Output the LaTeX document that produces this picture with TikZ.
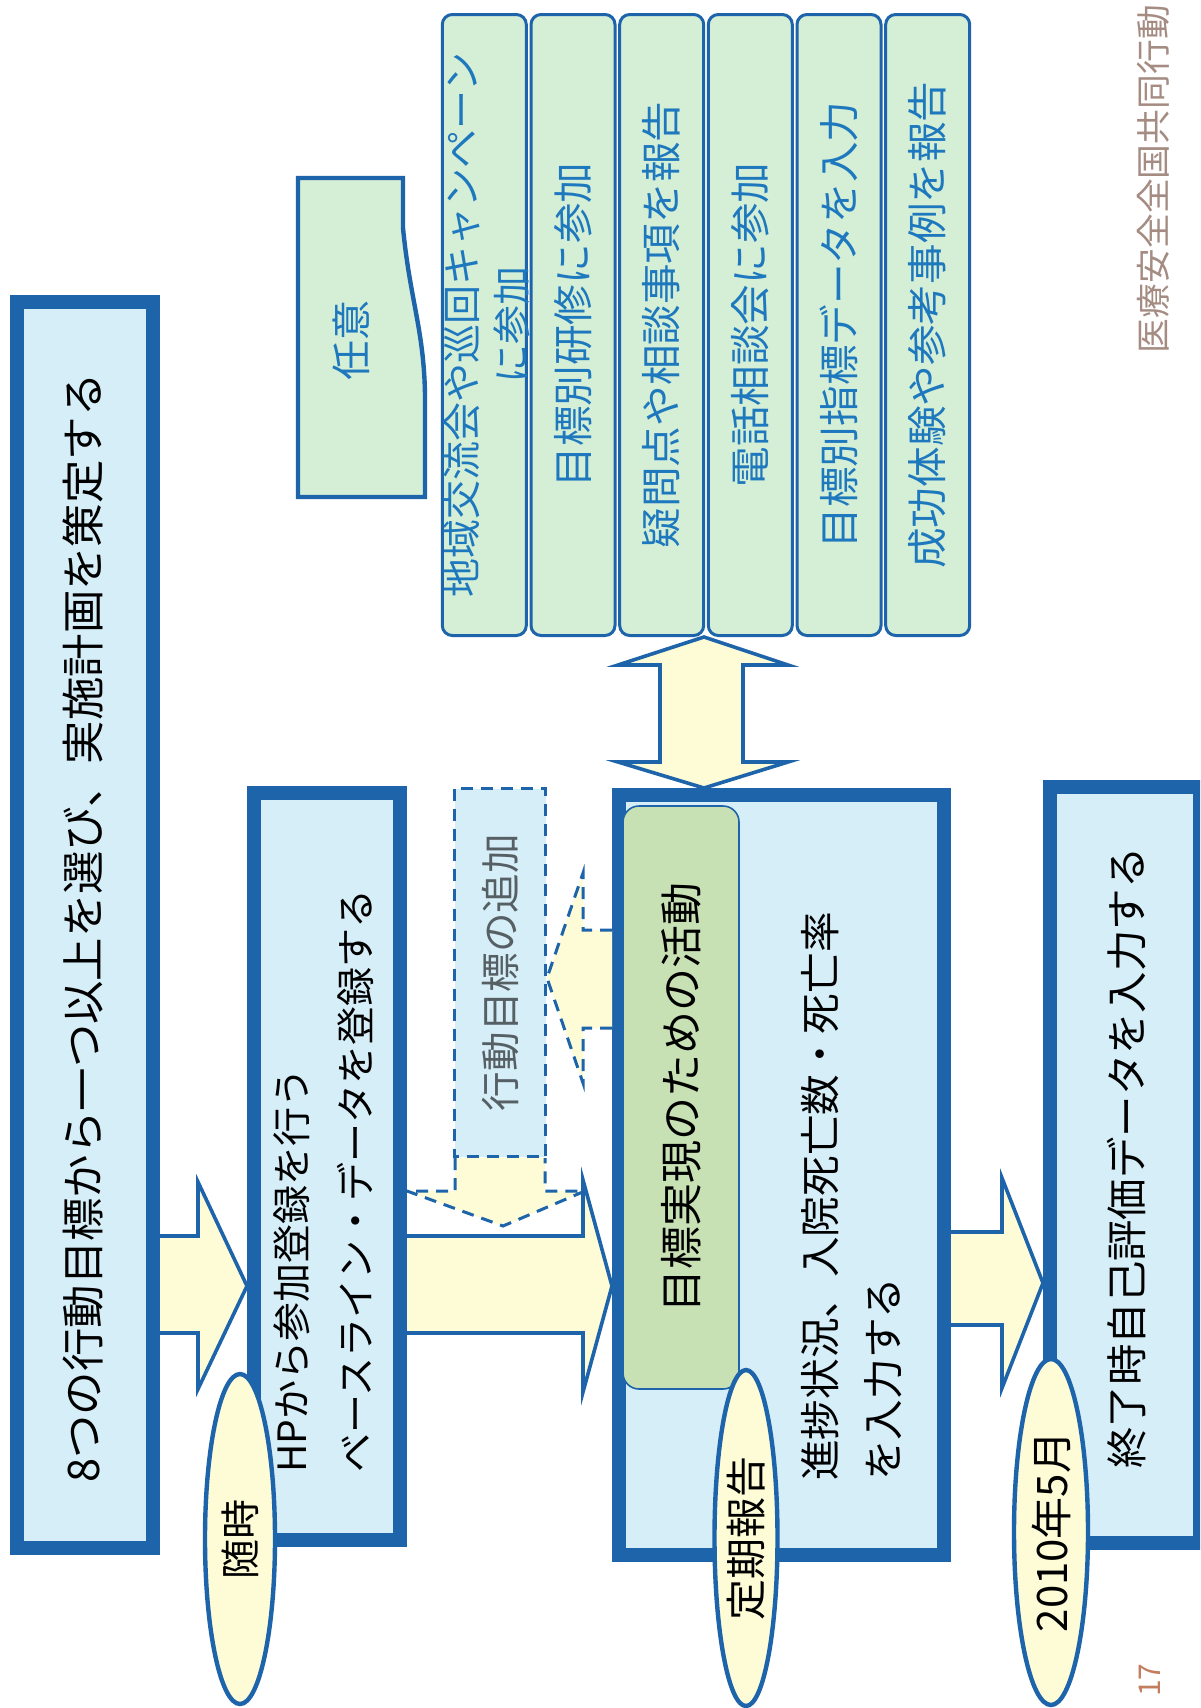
\documentclass[tikz,border=0pt]{standalone}
\usepackage{fontspec}
\setmainfont{Noto Sans CJK JP}
\usetikzlibrary{shapes.geometric}
\definecolor{dblue}{RGB}{30,100,170}
\definecolor{lblue}{RGB}{214,238,248}
\definecolor{lyel}{RGB}{253,252,214}
\definecolor{lgreen}{RGB}{213,238,214}
\definecolor{ggreen}{RGB}{200,225,180}
\definecolor{tblue}{RGB}{30,120,190}
\definecolor{foot}{RGB}{165,140,130}
\definecolor{pnum}{RGB}{195,125,95}
\definecolor{tgray}{RGB}{85,95,100}
\begin{document}
\begin{tikzpicture}[x=0.5pt,y=-0.5pt,
 bigbox/.style={draw=dblue, line width=7pt, fill=lblue, inner sep=0},
 colbox/.style={draw=dblue, line width=1.5pt, fill=lgreen, rounded corners=5pt, rotate=90, inner sep=0,
   minimum width=310.5pt, minimum height=42pt, text=tblue, font=\fontsize{20.3pt}{25pt}\selectfont, align=center},
 oval/.style={ellipse, draw=dblue, line width=2.2pt, fill=lyel, inner sep=0, rotate=90},
 barrow/.style={draw=dblue, line width=1.8pt, fill=lyel, line join=miter},
 darrow/.style={draw=dblue, line width=1.5pt, fill=lyel, dash pattern=on 6pt off 4pt},
 txt/.style={rotate=90, inner sep=0, font=\fontsize{20pt}{32pt}\selectfont}
]
\useasboundingbox (0,0) rectangle (1200,1708);
\fill[white] (0,0) rectangle (1200,1708);
\clip (0,0) rectangle (1200,1708);

% main boxes
\node[bigbox, minimum width=68pt, minimum height=623pt] (A) at (85,925) {};
\node[txt, font=\fontsize{21.7pt}{26pt}\selectfont] (Atext) at (83,928) {8つの行動目標から一つ以上を選び、実施計画を策定する};

\node[bigbox, minimum width=73pt, minimum height=373.5pt] (B) at (327,1166.5) {};
\node[txt, anchor=west, align=left, font=\fontsize{19.5pt}{32pt}\selectfont] (Btext) at (324,1473)
  {HPから参加登録を行う\\ベースライン・データを登録する};

\node[bigbox, minimum width=162.5pt, minimum height=380pt] (C) at (781.5,1175) {};
\node[draw=dblue, line width=0.8pt, fill=ggreen, rounded corners=8pt, rotate=90, inner sep=0,
  minimum width=291.5pt, minimum height=58pt, font=\fontsize{21.5pt}{26pt}\selectfont] (G) at (681,1097.5)
  {目標実現のための活動};
\node[txt, anchor=west, align=left, font=\fontsize{20.3pt}{31.5pt}\selectfont] (Ctext) at (851.5,1481)
  {進捗状況、入院死亡数・死亡率\\を入力する};

\node[bigbox, minimum width=75pt, minimum height=378pt] (D) at (1125,1165) {};
\node[txt, font=\fontsize{20.7pt}{26pt}\selectfont] (Dtext) at (1127,1158) {終了時自己評価データを入力する};

% block arrows
\draw[barrow] (A.east |- 0,1236) -- (198,1236) -- (198,1182) -- (B.west |- 0,1286)
  -- (198,1389) -- (198,1333) -- (A.east |- 0,1333);
\draw[barrow] (B.east |- 0,1236) -- (583,1236) -- (583,1180) -- (C.west |- 0,1286)
  -- (583,1392) -- (583,1333) -- (B.east |- 0,1333);
\draw[barrow] (C.east |- 0,1232) -- (1002,1232) -- (1002,1178) -- (D.west |- 0,1283)
  -- (1002,1388) -- (1002,1325) -- (C.east |- 0,1325);

% dashed box and dashed arrows
\node[draw=dblue, line width=1.5pt, dash pattern=on 6pt off 4pt, fill=lblue, rotate=90, inner sep=0,
  minimum width=184pt, minimum height=45.5pt, text=tgray, font=\fontsize{19.8pt}{24pt}\selectfont] (N) at (500,972.5)
  {行動目標の追加};
\draw[darrow] (N.west -| 455,0) -- (455,1191) -- (B.east |- 0,1191) -- (503,1226)
  -- (585,1191) -- (545,1191) -- (N.west -| 545,0);
\draw[darrow] (C.west |- 0,930) -- (583,930) -- (583,873) -- (N.south |- 0,978)
  -- (583,1083) -- (583,1028) -- (C.west |- 0,1028);

% columns
\node[colbox] (c1) at (484.3,325) {};
\node[rotate=90, inner sep=0, text=tblue, align=center, font=\fontsize{19.5pt}{25pt}\selectfont] (c1t) at (487,325)
  {地域交流会や巡回キャンペーン\\に参加};
\node[colbox] (c2) at (573,325) {目標別研修に参加};
\node[colbox] (c3) at (661.7,325) {疑問点や相談事項を報告};
\node[colbox] (c4) at (750.3,325) {電話相談会に参加};
\node[colbox] (c5) at (839,325) {目標別指標データを入力};
\node[colbox] (c6) at (927.7,325) {成功体験や参考事例を報告};

% double arrow
\draw[barrow] (C.north -| 704,0) -- (788,762) -- (743,762) -- (743,665) -- (788,665)
  -- (c3.west -| 704,0) -- (618,665) -- (660,665) -- (660,762) -- (618,762) -- cycle;

% optional box
\filldraw[draw=dblue, line width=2.2pt, fill=lgreen] (298,178) -- (403,178) -- (403,228)
  .. controls (410,300) and (424,330) .. (425,395) -- (425,497) -- (298,497) -- cycle;
\node[txt, text=tblue, font=\fontsize{20pt}{24pt}\selectfont] (nini) at (351,340) {任意};

% ovals
\node[oval, minimum width=165pt, minimum height=35pt, font=\fontsize{20pt}{24pt}\selectfont] (E1) at (240,1539) {随時};
\node[oval, minimum width=168pt, minimum height=31.5pt, font=\fontsize{20.5pt}{24pt}\selectfont] (E2) at (746,1538) {定期報告};
\node[oval, minimum width=173pt, minimum height=37pt, font=\fontsize{21pt}{24pt}\selectfont] (E3) at (1051,1532) {2010年5月};

% footer
\node[rotate=90, inner sep=0, text=foot, font=\fontsize{17.4pt}{20pt}\selectfont] (ft) at (1153,179) {医療安全全国共同行動};
\node[rotate=90, inner sep=0, text=pnum, font=\fontsize{15pt}{18pt}\selectfont] (pg) at (1150,1680) {17};
\end{tikzpicture}
\end{document}
